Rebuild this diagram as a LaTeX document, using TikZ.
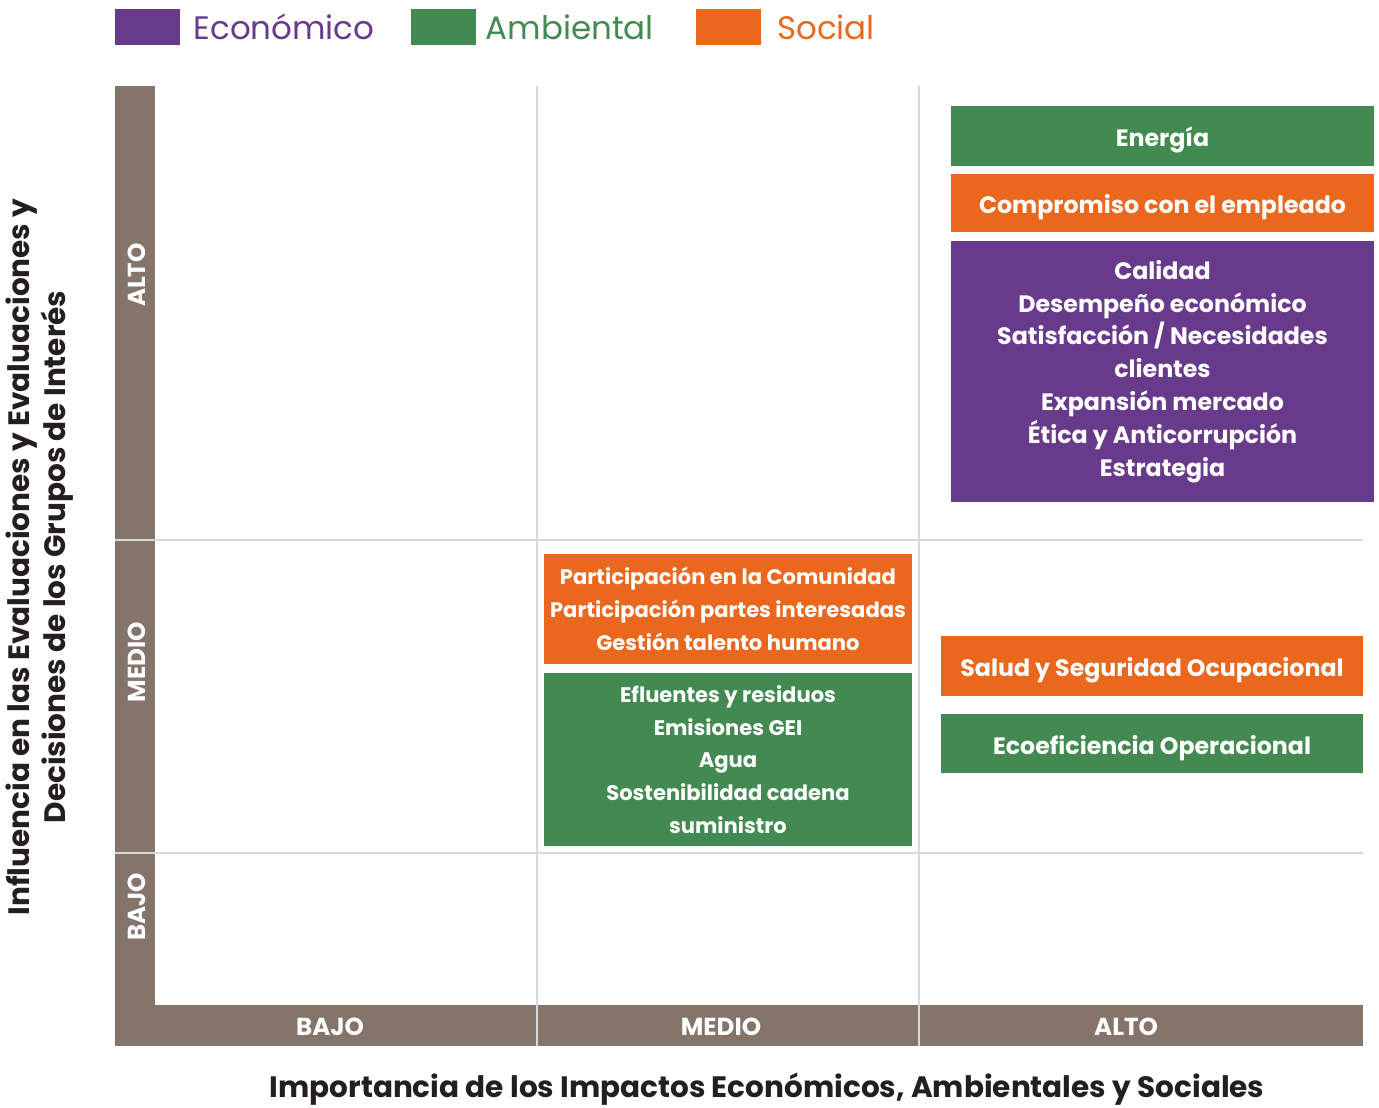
\documentclass[tikz,border=0pt]{standalone}
\usepackage{fontspec}
\setmainfont{Poppins}
\usepackage{tikz}
\usetikzlibrary{positioning}
\definecolor{eco}{HTML}{683A8C}
\definecolor{amb}{HTML}{438A52}
\definecolor{soc}{HTML}{EA671E}
\definecolor{eje}{HTML}{84746A}
\definecolor{rejilla}{HTML}{D8D8D8}
\definecolor{tinta}{HTML}{231F20}
\tikzset{
	tema/.style={
			rectangle, draw=white, thick, fill=#1, text=white, inner sep=0pt,
			font=\fontsize{13.5}{18.7}\selectfont\bfseries, align=center},
	temamedio/.style={
			tema=#1, font=\fontsize{12}{18.7}\selectfont\bfseries},
	unalinea/.style={
			text height=12.5pt, text depth=0pt},
	leyenda/.style={
			rectangle, fill=#1, minimum width=1.3cm, minimum height=0.72cm, inner sep=0pt},
	leyendatxt/.style={
			text=#1, inner sep=0pt, font=\fontsize{18.5}{20}\selectfont},
	nivel/.style={
			text=white, inner sep=0pt, font=\fontsize{14}{15}\selectfont\bfseries},
	titulo/.style={
			text=tinta, inner sep=0pt, align=center, font=\fontsize{16.8}{20.5}\selectfont\bfseries},
		}

\begin{document}
\begin{tikzpicture} [x=0.02cm, y=-0.02cm]
	\useasboundingbox (0,0) rectangle (1379,1108);

	% leyenda
	\node[leyenda=eco] (ecobox) at (147.5,27) {};
	\node[leyendatxt=eco, right=0.26cm of ecobox] (ecotxt) {Económico};
	\node[leyenda=amb] (ambbox) at (443.5,27) {};
	\node[leyendatxt=amb, right=0.18cm of ambbox] (ambtxt) {Ambiental};
	\node[leyenda=soc] (socbox) at (728,27) {};
	\node[leyendatxt=soc, right=0.32cm of socbox] (soctxt) {Social};

	% ejes
	\fill[eje] (115,86) rectangle (155,1046);
	\fill[eje] (115,1005) rectangle (1363,1046);
	\draw[rejilla, line width=1.2pt] (115,540) -- (1363,540);
	\draw[rejilla, line width=1.2pt] (115,853) -- (1363,853);
	\draw[rejilla, line width=1.2pt] (537,86) -- (537,1046);
	\draw[rejilla, line width=1.2pt] (919,86) -- (919,1046);

	\node[nivel, rotate=90] (yalto) at (137,275) {ALTO};
	\node[nivel, rotate=90] (ymedio) at (137,662) {MEDIO};
	\node[nivel, rotate=90] (ybajo) at (137,907) {BAJO};
	\node[nivel] (xbajo) at (330,1027) {BAJO};
	\node[nivel] (xmedio) at (721,1027) {MEDIO};
	\node[nivel] (xalto) at (1126,1027) {ALTO};

	\node[titulo, rotate=90] (ytitulo) at (40,557)
		{Influencia en las Evaluaciones y Evaluaciones y\\Decisiones de los Grupos de Interés};
	\node[titulo] (xtitulo) at (767,1089)
		{Importancia de los Impactos Económicos, Ambientales y Sociales};

	% temas
	\node[tema=amb, unalinea, minimum width=8.5cm, minimum height=1.24cm] (energia) at (1162.5,136) {Energía};
	\node[tema=soc, unalinea, minimum width=8.5cm, minimum height=1.2cm] (empleado) at (1162.5,203)
		{Compromiso con el empleado};
	\node[tema=eco, minimum width=8.5cm, minimum height=5.26cm] (economico) at (1162.5,371.5)
		{Calidad\\Desempeño económico\\Satisfacción / Necesidades\\clientes\\Expansión mercado\\Ética y Anticorrupción\\Estrategia};

	\node[temamedio=soc, minimum width=7.4cm, minimum height=2.24cm] (comunidad) at (728,609)
		{Participación en la Comunidad\\Participación partes interesadas\\Gestión talento humano};
	\node[temamedio=amb, minimum width=7.4cm, minimum height=3.5cm] (ambiental) at (728,759.5)
		{Efluentes y residuos\\Emisiones GEI\\Agua\\Sostenibilidad cadena\\suministro};

	\node[tema=soc, unalinea, minimum width=8.48cm, minimum height=1.24cm] (salud) at (1152,666)
		{Salud y Seguridad Ocupacional};
	\node[tema=amb, unalinea, minimum width=8.48cm, minimum height=1.22cm] (ecoeficiencia) at (1152,743.5)
		{Ecoeficiencia Operacional};
%
\end{tikzpicture}
\end{document}
